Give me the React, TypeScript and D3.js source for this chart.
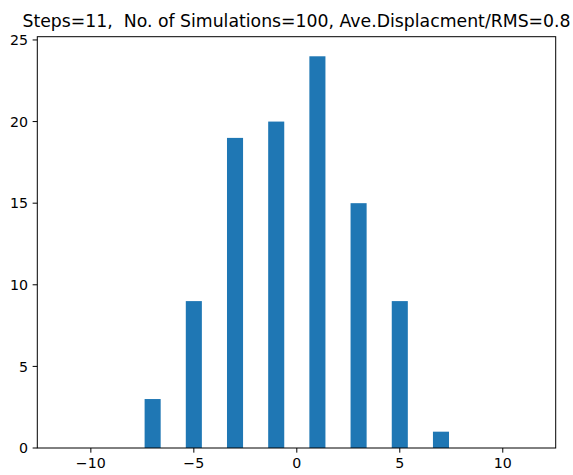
import React from "react";
import * as d3 from "d3";

const TITLE = "Steps=11,  No. of Simulations=100, Ave.Displacment/RMS=0.8";
const binCenters = [-7, -5, -3, -1, 1, 3, 5, 7];
const counts = [3, 9, 19, 20, 24, 15, 9, 1];
const xTicks = [-10, -5, 0, 5, 10];
const yTicks = [0, 5, 10, 15, 20, 25];
const binWidth = 0.78;

const W = 573;
const H = 475;
const left = 37.3;
const right = 555.7;
const top = 36.7;
const bottom = 448;

export default function App() {
  const x = d3.scaleLinear().domain([-12.6, 12.57]).range([left, right]);
  const y = d3.scaleLinear().domain([0, 25.2]).range([bottom, top]);
  const font = "'DejaVu Sans', sans-serif";
  const tickLen = 4.67;
  const tickFont = 14.2;
  return (
    <svg
      width={W}
      height={H}
      style={{ position: "absolute", left: 0, top: 0, background: "#fff" }}
      fontFamily={font}
    >
      <rect x={0} y={0} width={W} height={H} fill="#fff" />
      {binCenters.map((c, i) => (
        <rect
          key={c}
          x={x(c - binWidth / 2)}
          y={y(counts[i])}
          width={x(c + binWidth / 2) - x(c - binWidth / 2)}
          height={y(0) - y(counts[i])}
          fill="#1f77b4"
        />
      ))}
      <rect
        x={left}
        y={top}
        width={right - left}
        height={bottom - top}
        fill="none"
        stroke="#000"
        strokeWidth={1}
      />
      {xTicks.map((t) => (
        <g key={t}>
          <line x1={x(t)} x2={x(t)} y1={bottom} y2={bottom + tickLen} stroke="#000" strokeWidth={1} />
          <text x={x(t)} y={bottom + tickLen + 4.5} dy="0.76em" textAnchor="middle" fontSize={tickFont} fill="#000">
            {t < 0 ? "\u2212" + Math.abs(t) : String(t)}
          </text>
        </g>
      ))}
      {yTicks.map((t) => (
        <g key={t}>
          <line x1={left - tickLen} x2={left} y1={y(t)} y2={y(t)} stroke="#000" strokeWidth={1} />
          <text x={left - tickLen - 4.5} y={y(t)} dy="0.36em" textAnchor="end" fontSize={tickFont} fill="#000">
            {t}
          </text>
        </g>
      ))}
      <text
        x={(left + right) / 2}
        y={top - 9.5}
        textAnchor="middle"
        fontSize={17.3}
        fill="#000"
        style={{ whiteSpace: "pre" }}
      >
        {TITLE}
      </text>
    </svg>
  );
}
